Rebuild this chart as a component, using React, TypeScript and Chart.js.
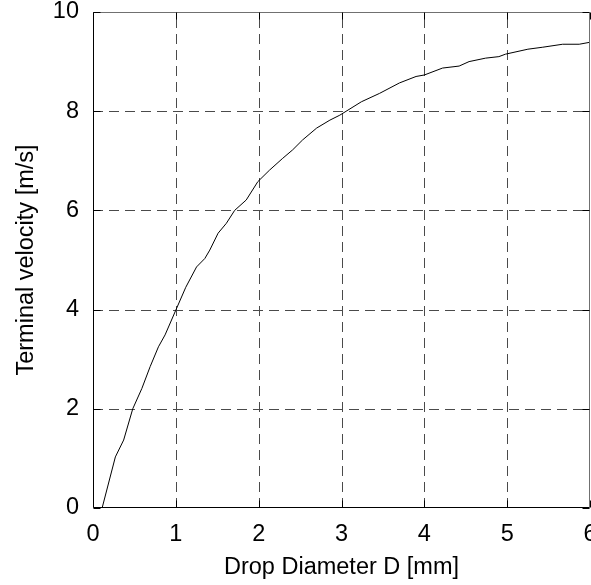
import React, { useEffect, useRef } from "react";
import { Chart, registerables } from "chart.js";

Chart.register(...registerables);

const diameters = [
  0.11, 0.27, 0.37, 0.48, 0.59, 0.69, 0.79, 0.87, 1.0, 1.12, 1.25, 1.35, 1.41,
  1.51, 1.61, 1.71, 1.85, 1.99, 2.13, 2.29, 2.41, 2.53, 2.7, 2.86, 2.98, 3.24,
  3.46, 3.7, 3.9, 4.0, 4.22, 4.42, 4.54, 4.74, 4.9, 4.98, 5.25, 5.43, 5.67,
  5.87, 6.0,
];
const velocities = [
  0.0, 1.03, 1.37, 2.0, 2.41, 2.85, 3.25, 3.49, 3.99, 4.45, 4.86, 5.03, 5.2,
  5.54, 5.74, 6.0, 6.21, 6.58, 6.81, 7.05, 7.22, 7.42, 7.66, 7.82, 7.92, 8.19,
  8.36, 8.57, 8.7, 8.73, 8.87, 8.91, 9.0, 9.07, 9.1, 9.15, 9.25, 9.29, 9.35,
  9.35, 9.39,
];
const xTicks = [0, 1, 2, 3, 4, 5, 6];
const yTicks = [0, 2, 4, 6, 8, 10];
const xTitle = "Drop Diameter D [mm]";
const yTitle = "Terminal velocity [m/s]";

const FONT = "'Liberation Sans', Arial, Helvetica, sans-serif";
const FS = 23.5;

const gridPlugin = {
  id: "matlabGrid",
  beforeDatasetsDraw(chart: any) {
    const { ctx, chartArea: a, scales } = chart;
    const xs = scales.x;
    const ys = scales.y;
    ctx.save();
    ctx.strokeStyle = "#4a4a4a";
    ctx.lineWidth = 1;
    ctx.setLineDash([10, 6]);
    xTicks.forEach((t) => {
      if (t === xTicks[0] || t === xTicks[xTicks.length - 1]) return;
      const px = Math.round(xs.getPixelForValue(t)) + 0.5;
      ctx.beginPath();
      ctx.moveTo(px, a.bottom);
      ctx.lineTo(px, a.top);
      ctx.stroke();
    });
    yTicks.forEach((t) => {
      if (t === yTicks[0] || t === yTicks[yTicks.length - 1]) return;
      const py = Math.round(ys.getPixelForValue(t)) + 0.5;
      ctx.beginPath();
      ctx.moveTo(a.left, py);
      ctx.lineTo(a.right, py);
      ctx.stroke();
    });
    ctx.restore();
  },
  afterDraw(chart: any) {
    const { ctx, chartArea: a, scales } = chart;
    const xs = scales.x;
    const ys = scales.y;
    const L = Math.round(a.left) + 0.5;
    const R = Math.round(a.right) - 0.5;
    const T = Math.round(a.top) + 0.5;
    const B = Math.round(a.bottom) - 0.5;
    ctx.save();
    ctx.setLineDash([]);
    ctx.lineWidth = 1;
    ctx.strokeStyle = "#707070";
    ctx.beginPath();
    ctx.moveTo(L, T);
    ctx.lineTo(R, T);
    ctx.lineTo(R, B);
    ctx.stroke();
    ctx.strokeStyle = "#000";
    ctx.beginPath();
    ctx.moveTo(L, T);
    ctx.lineTo(L, B);
    ctx.lineTo(R, B);
    ctx.stroke();
    const tl = 7;
    ctx.beginPath();
    yTicks.forEach((t) => {
      const py = Math.round(ys.getPixelForValue(t)) + 0.5;
      ctx.moveTo(L, py);
      ctx.lineTo(L + tl, py);
      ctx.moveTo(R, py);
      ctx.lineTo(R - tl, py);
    });
    xTicks.forEach((t) => {
      const px = Math.round(xs.getPixelForValue(t)) + 0.5;
      ctx.moveTo(px, B);
      ctx.lineTo(px, B - tl);
      ctx.moveTo(px, T);
      ctx.lineTo(px, T + tl);
    });
    ctx.stroke();
    ctx.restore();
  },
};

export default function App() {
  const ref = useRef<HTMLCanvasElement | null>(null);

  useEffect(() => {
    document.body.style.margin = "0";
    const canvas = ref.current;
    if (!canvas) return;
    const chart = new Chart(canvas, {
      type: "scatter",
      data: {
        datasets: [
          {
            data: diameters.map((d, i) => ({ x: d, y: velocities[i] })),
            showLine: true,
            borderColor: "#000",
            borderWidth: 1,
            pointRadius: 0,
            tension: 0,
            fill: false,
          },
        ],
      },
      options: {
        animation: false,
        responsive: false,
        devicePixelRatio: 1,
        layout: { padding: { top: 12, right: 1, bottom: 0, left: 0 } },
        plugins: {
          legend: { display: false },
          tooltip: { enabled: false },
        },
        scales: {
          x: {
            type: "linear",
            min: 0,
            max: 6,
            afterBuildTicks: (s: any) => {
              s.ticks = xTicks.map((v) => ({ value: v }));
            },
            afterFit: (s: any) => {
              s.height = 77;
              s.paddingLeft = 0;
              s.paddingRight = 0;
            },
            ticks: {
              color: "#000",
              font: { family: FONT, size: FS },
              padding: 12,
              maxRotation: 0,
              autoSkip: false,
            },
            grid: { display: true, drawOnChartArea: false, drawTicks: false },
            border: { display: false },
            title: {
              display: true,
              text: xTitle,
              color: "#000",
              font: { family: FONT, size: FS },
              padding: { top: 7, bottom: 3 },
            },
          },
          y: {
            type: "linear",
            min: 0,
            max: 10,
            afterBuildTicks: (s: any) => {
              s.ticks = yTicks.map((v) => ({ value: v }));
            },
            afterFit: (s: any) => {
              s.width = 93;
              s.paddingTop = 0;
              s.paddingBottom = 0;
            },
            ticks: {
              color: "#000",
              font: { family: FONT, size: FS },
              padding: 14,
              autoSkip: false,
            },
            grid: { display: true, drawOnChartArea: false, drawTicks: false },
            border: { display: false },
            title: {
              display: true,
              text: yTitle,
              color: "#000",
              font: { family: FONT, size: FS },
              padding: { top: 12, bottom: 10 },
            },
          },
        },
      },
      plugins: [gridPlugin],
    } as any);
    return () => chart.destroy();
  }, []);

  return (
    <div
      style={{
        position: "fixed",
        left: 0,
        top: 0,
        width: 591,
        height: 585,
        overflow: "hidden",
        background: "#fff",
      }}
    >
      <canvas ref={ref} width={591} height={585} style={{ display: "block" }} />
    </div>
  );
}
